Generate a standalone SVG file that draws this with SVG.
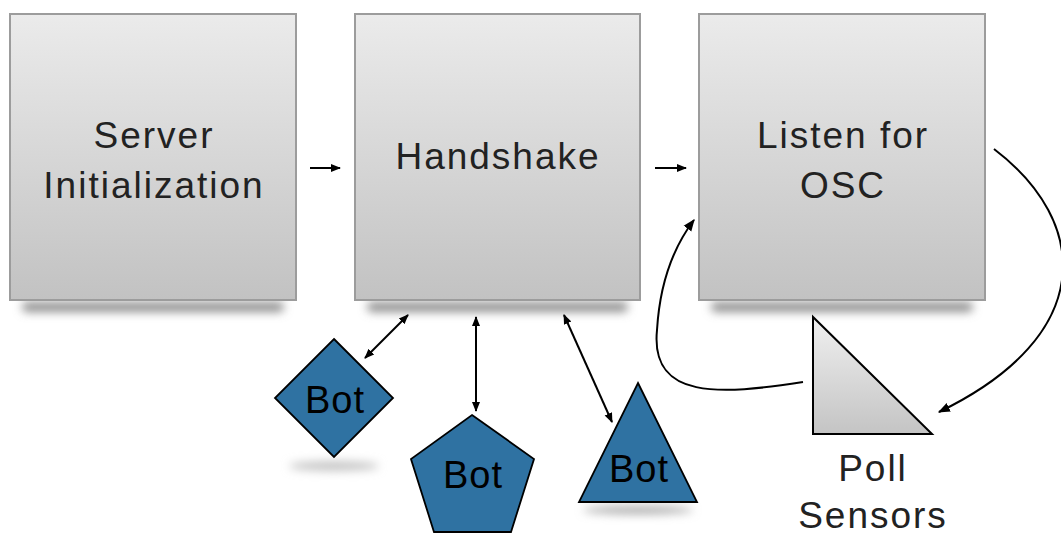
<svg xmlns="http://www.w3.org/2000/svg" width="1061" height="535" viewBox="0 0 1061 535">
<defs>
<linearGradient id="boxg" x1="0" y1="0" x2="0" y2="1">
<stop offset="0" stop-color="#ebebeb"/>
<stop offset="1" stop-color="#c2c2c2"/>
</linearGradient>
<linearGradient id="trig" x1="0" y1="0" x2="0" y2="1">
<stop offset="0" stop-color="#f0f0f0"/>
<stop offset="1" stop-color="#c4c4c4"/>
</linearGradient>
<filter id="blur" x="-20%" y="-300%" width="140%" height="700%">
<feGaussianBlur stdDeviation="5"/>
</filter>
<filter id="blur2" x="-50%" y="-300%" width="200%" height="700%">
<feGaussianBlur stdDeviation="5"/>
</filter>
<marker id="ah" viewBox="0 0 10 10" refX="9" refY="5" markerWidth="10" markerHeight="10" markerUnits="userSpaceOnUse" orient="auto-start-reverse">
<path d="M0,1 L10,5 L0,9 Z" fill="#000"/>
</marker>
<marker id="ah2" viewBox="0 0 10 10" refX="9" refY="5" markerWidth="12" markerHeight="12" markerUnits="userSpaceOnUse" orient="auto">
<path d="M0,1 L10,5 L0,9 Z" fill="#000"/>
</marker>
<style>
.box{fill:url(#boxg);stroke:#9c9c9c;stroke-width:2}
.shadow{fill:#8f8f8f;filter:url(#blur)}
.lbl{font-family:"Liberation Sans",Arial,sans-serif;font-size:37px;letter-spacing:2px;fill:#222;text-anchor:middle}
.bot{fill:#2f72a2;stroke:#000;stroke-width:1.8}
.botl{font-family:"Liberation Sans",Arial,sans-serif;font-size:38px;letter-spacing:1px;fill:#000;text-anchor:middle}
.con{fill:none;stroke:#000;stroke-width:2}
</style>
</defs>
<rect width="1061" height="535" fill="#fff"/>

<g id="shadows">
<rect class="shadow" x="22" y="302" width="262" height="10" rx="5"/>
<rect class="shadow" x="367" y="302" width="261" height="10" rx="5"/>
<rect class="shadow" x="711" y="302" width="262" height="10" rx="5"/>
<ellipse cx="334" cy="466" rx="45" ry="5" fill="#c4c4c4" filter="url(#blur2)"/>
<ellipse cx="638" cy="510" rx="55" ry="4" fill="#aaa" filter="url(#blur2)"/>
</g>

<g id="server-init">
<rect class="box" x="10" y="14" width="286" height="286"/>
<text class="lbl" x="154" y="148">Server</text>
<text class="lbl" x="154" y="198">Initialization</text>
</g>

<g id="handshake">
<rect class="box" x="355" y="14" width="285" height="286"/>
<text class="lbl" x="498" y="169">Handshake</text>
</g>

<g id="listen-osc">
<rect class="box" x="699" y="14" width="286" height="286"/>
<text class="lbl" x="843" y="148">Listen for</text>
<text class="lbl" x="843" y="198">OSC</text>
</g>

<g id="bot-diamond">
<polygon class="bot" points="334,339 393,398 334,457 275,398"/>
<text class="botl" x="335" y="413">Bot</text>
</g>

<g id="bot-pentagon">
<polygon class="bot" points="472,415 534,459 511,532 434,532 411,459"/>
<text class="botl" x="473" y="488">Bot</text>
</g>

<g id="bot-triangle">
<polygon class="bot" points="638,383 697,502 579,502"/>
<text class="botl" x="639" y="482">Bot</text>
</g>

<g id="poll-sensors">
<polygon points="813,317 813,434 932,434" fill="url(#trig)" stroke="#000" stroke-width="2"/>
<text class="lbl" x="873" y="481">Poll</text>
<text class="lbl" x="873" y="528">Sensors</text>
</g>

<g id="connectors">
<line class="con" x1="310" y1="168" x2="340" y2="168" marker-end="url(#ah)"/>
<line class="con" x1="655" y1="168" x2="686" y2="168" marker-end="url(#ah)"/>
<line class="con" x1="408" y1="315" x2="365" y2="358" marker-start="url(#ah)" marker-end="url(#ah)"/>
<line class="con" x1="476" y1="317" x2="476" y2="411" marker-start="url(#ah)" marker-end="url(#ah)"/>
<line class="con" x1="564" y1="315" x2="612" y2="422" marker-start="url(#ah)" marker-end="url(#ah)"/>
<path class="con" d="M994,149 C1090,222 1098,335 939,412" marker-end="url(#ah2)"/>
<path class="con" d="M803,382 C720,395 650,400 657,330 C660,280 675,245 694,220" marker-end="url(#ah2)"/>
</g>
</svg>
